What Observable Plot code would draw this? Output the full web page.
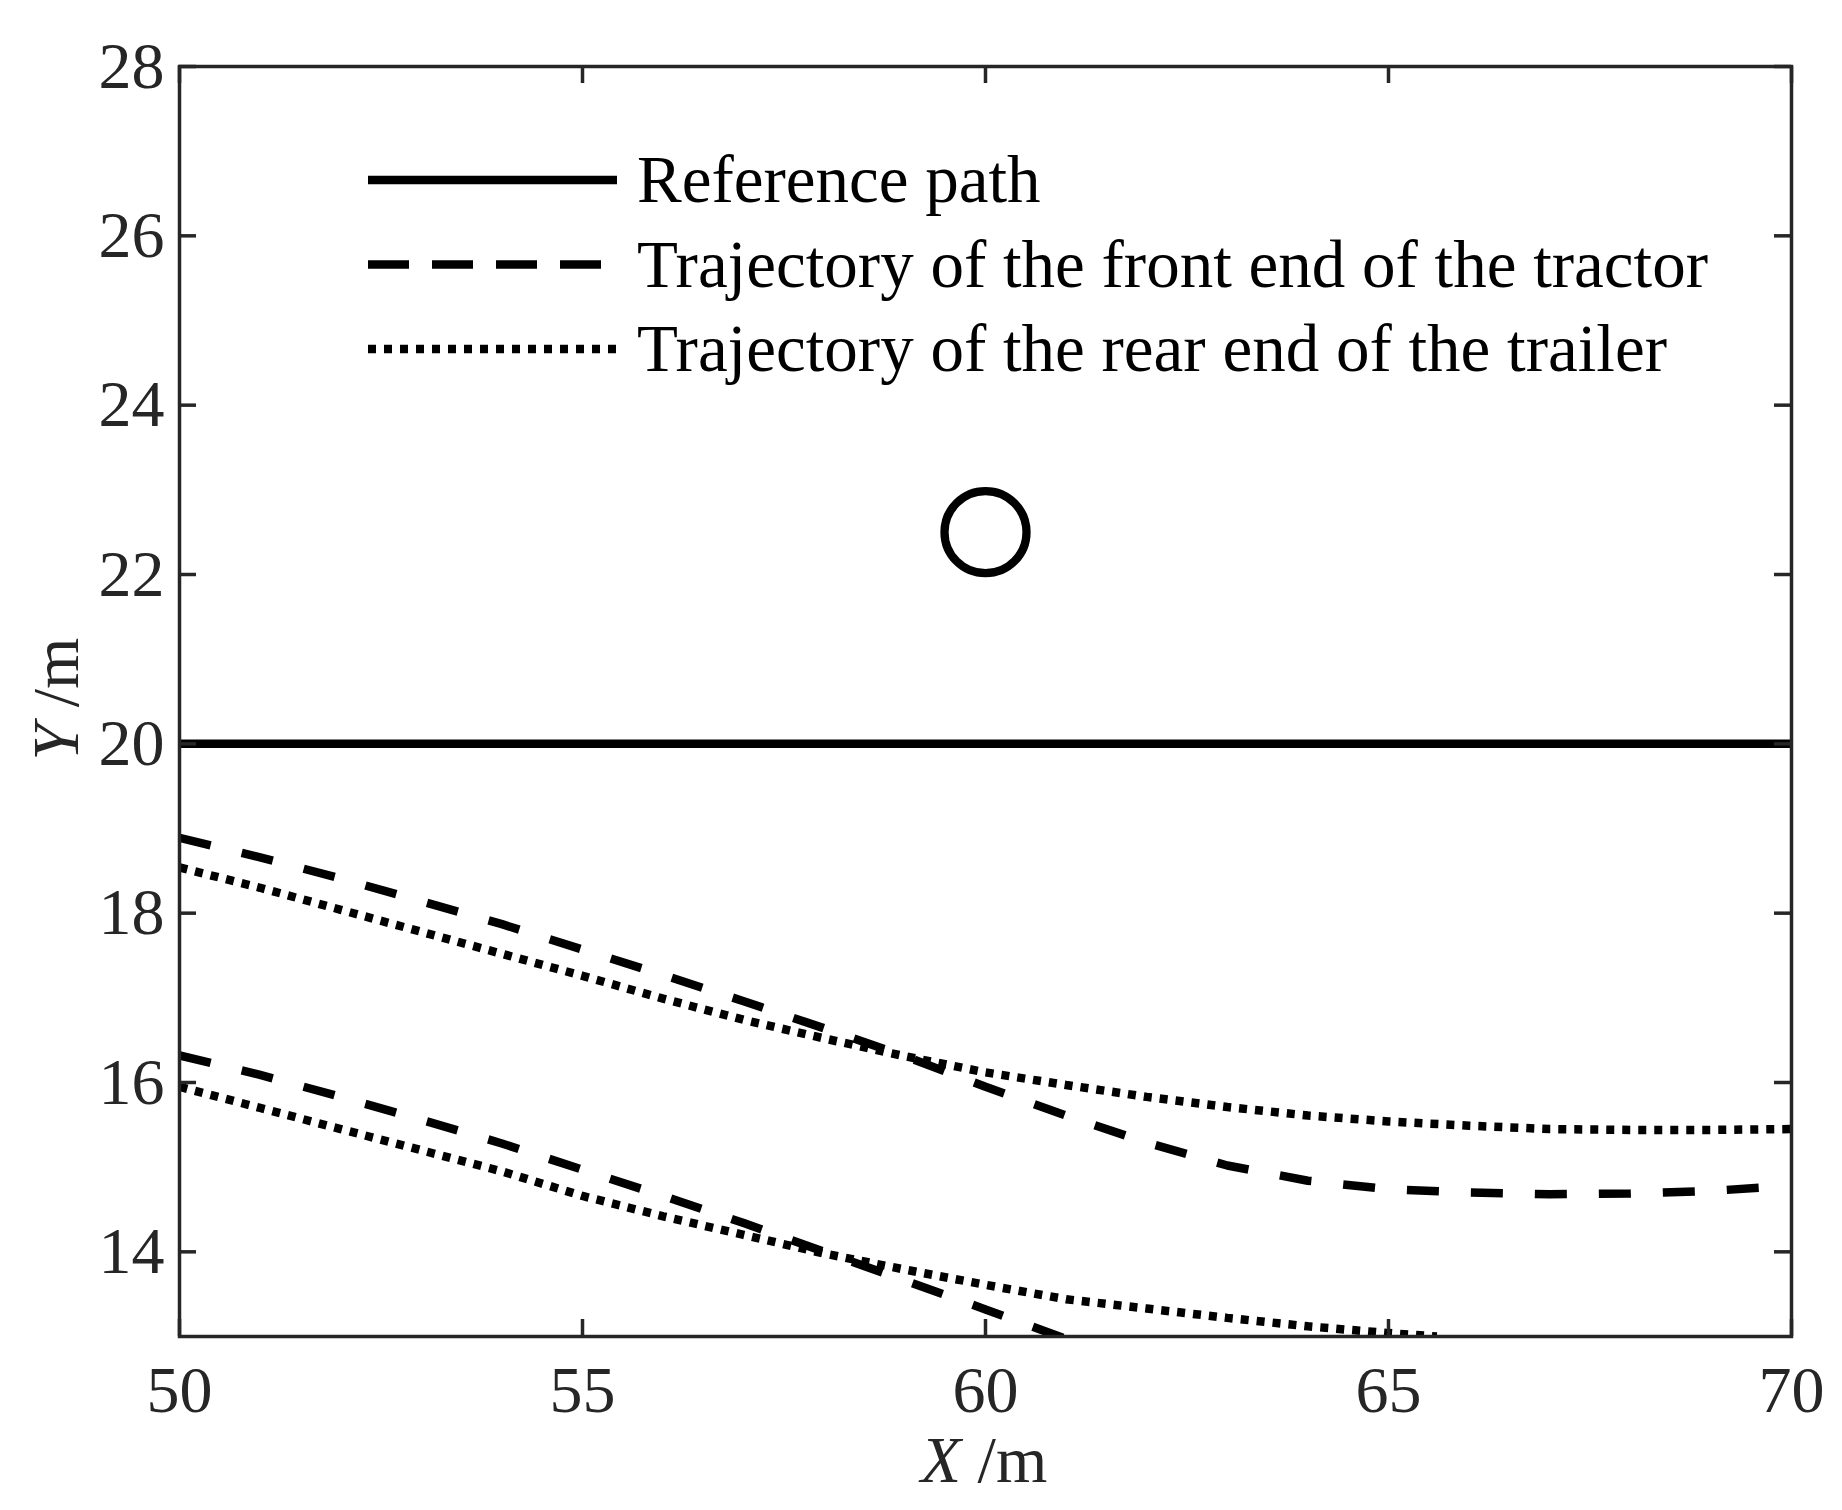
<!DOCTYPE html>
<html>
<head>
<meta charset="utf-8">
<script src="https://cdn.jsdelivr.net/npm/d3@7"></script>
<script src="https://cdn.jsdelivr.net/npm/@observablehq/plot@0.6"></script>
<style>
  html, body { margin: 0; padding: 0; background: #ffffff; }
  #chart { width: 1842px; height: 1510px; }
</style>
</head>
<body>
<div id="chart"></div>
<script>
// ---------- data ----------
const xTicks = [50, 55, 60, 65, 70];
const yTicks = [14, 16, 18, 20, 22, 24, 26, 28];

const legendLabels = [
  "Reference path",
  "Trajectory of the front end of the tractor",
  "Trajectory of the rear end of the trailer"
];

// reference path
const refX = [50, 70];
const refY = [20, 20];

// obstacle
const obstacleX = [60];
const obstacleY = [22.5];

// case 1 (upper pair)
const front1X = [50, 51, 52, 53, 54, 55, 56, 57, 58, 59, 60, 61, 62, 63, 64, 65, 66, 67, 68, 69, 70];
const front1Y = [18.89, 18.66, 18.41, 18.14, 17.87, 17.57, 17.27, 16.96, 16.64, 16.31, 15.95, 15.61, 15.29, 15.02, 14.84, 14.74, 14.70, 14.68, 14.69, 14.72, 14.78];
const rear1X  = [50, 51, 52, 53, 54, 55, 56, 57, 58, 59, 60, 61, 62, 63, 64, 65, 66, 67, 68, 69, 70];
const rear1Y  = [18.54, 18.30, 18.04, 17.78, 17.52, 17.26, 16.99, 16.74, 16.52, 16.31, 16.12, 15.97, 15.83, 15.71, 15.61, 15.54, 15.49, 15.45, 15.44, 15.44, 15.45];

// case 2 (lower pair)
const front2X = [50, 51, 52, 53, 54, 55, 56, 57, 58, 59, 60, 61];
const front2Y = [16.32, 16.09, 15.83, 15.56, 15.28, 14.97, 14.66, 14.34, 14.00, 13.66, 13.32, 12.97];
const rear2X  = [50, 51, 52, 53, 54, 55, 56, 57, 58, 59, 60, 61, 62, 63, 64, 65, 65.6];
const rear2Y  = [15.95, 15.70, 15.45, 15.20, 14.95, 14.66, 14.42, 14.20, 13.98, 13.79, 13.61, 13.44, 13.33, 13.22, 13.12, 13.04, 13.00];

// ---------- helpers ----------
const pts = (xs, ys) => xs.map((x, i) => ({x, y: ys[i]}));

const W = 1842, H = 1510;
const mL = 179, mR = 51, mT = 66, mB = 174;
const plotW = W - mL - mR, plotH = H - mT - mB;
const axisColor = "#262626";
const lw = 8.5;
const dashed = "32,32";
const dotted = "8,8";
const font = "'Liberation Serif', 'Times New Roman', Times, serif";
const lineStyle = {x: "x", y: "y", stroke: "black", strokeWidth: lw, strokeLinecap: "butt", strokeLinejoin: "miter", clip: true};

const chart = Plot.plot({
  width: W,
  height: H,
  marginLeft: mL, marginRight: mR, marginTop: mT, marginBottom: mB,
  x: {domain: [50, 70]},
  y: {domain: [13, 28]},
  style: {fontFamily: font, fontSize: "66px", color: axisColor, background: "#ffffff", overflow: "visible"},
  marks: [
    Plot.line(pts(refX, refY), {...lineStyle}),
    Plot.line(pts(front1X, front1Y), {...lineStyle, strokeDasharray: dashed}),
    Plot.line(pts(front2X, front2Y), {...lineStyle, strokeDasharray: dashed}),
    Plot.line(pts(rear1X, rear1Y), {...lineStyle, strokeDasharray: dotted}),
    Plot.line(pts(rear2X, rear2Y), {...lineStyle, strokeDasharray: dotted}),
    Plot.dot(pts(obstacleX, obstacleY), {x: "x", y: "y", r: 41, stroke: "black", strokeWidth: 8.3, fill: "none"}),
    // inward ticks on all four sides
    Plot.tickX(xTicks, {x: d => d, insetTop: plotH - 17, stroke: axisColor, strokeWidth: 3.5}),
    Plot.tickX(xTicks, {x: d => d, insetBottom: plotH - 17, stroke: axisColor, strokeWidth: 3.5}),
    Plot.tickY(yTicks, {y: d => d, insetRight: plotW - 17, stroke: axisColor, strokeWidth: 3.5}),
    Plot.tickY(yTicks, {y: d => d, insetLeft: plotW - 17, stroke: axisColor, strokeWidth: 3.5}),
    Plot.frame({stroke: axisColor, strokeWidth: 3.5}),
    Plot.axisX({ticks: xTicks, tickSize: 0, tickPadding: 29, label: null, fontSize: 66}),
    Plot.axisY({ticks: yTicks, tickSize: 0, tickPadding: 15, label: null, fontSize: 66})
  ]
});

document.getElementById("chart").appendChild(chart);

// ---------- axis labels (with italic variable) ----------
const svg = d3.select(chart);
const xl = svg.append("text")
  .attr("x", 984).attr("y", 1482)
  .attr("text-anchor", "middle")
  .attr("fill", axisColor)
  .style("font-family", font).style("font-size", "66px");
xl.append("tspan").attr("font-style", "italic").text("X");
xl.append("tspan").text(" /m");

const yl = svg.append("text")
  .attr("transform", "translate(78,699) rotate(-90)")
  .attr("text-anchor", "middle")
  .attr("fill", axisColor)
  .style("font-family", font).style("font-size", "66px");
yl.append("tspan").attr("font-style", "italic").text("Y");
yl.append("tspan").text(" /m");

// ---------- legend (inside axes, no box) ----------
const legendDash = [null, "41,23", dotted];
const legendY = [180, 264.5, 349];
const lg = svg.append("g");
legendLabels.forEach((lab, i) => {
  const ln = lg.append("line")
    .attr("x1", 368).attr("x2", 617)
    .attr("y1", legendY[i]).attr("y2", legendY[i])
    .attr("stroke", "black").attr("stroke-width", lw)
    .attr("stroke-linecap", "butt");
  if (legendDash[i]) ln.attr("stroke-dasharray", legendDash[i]);
  lg.append("text")
    .attr("x", 637).attr("y", legendY[i] + 22)
    .attr("text-anchor", "start")
    .attr("fill", "black")
    .style("font-family", font).style("font-size", "67px")
    .text(lab);
});
</script>
</body>
</html>
